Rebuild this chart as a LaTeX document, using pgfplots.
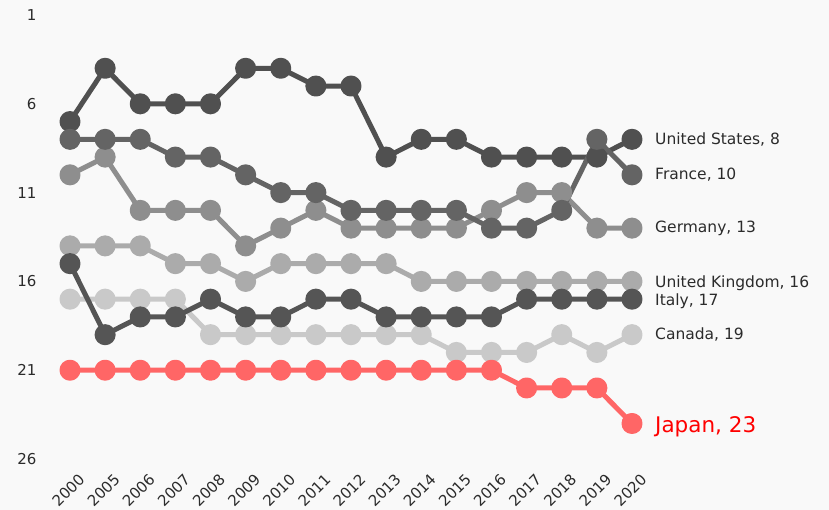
\documentclass[border=0pt]{standalone}
\usepackage{pgfplots}
\pgfplotsset{compat=1.18}
\usepackage{fontspec}
\setmainfont{DejaVu Sans}

\definecolor{bg}{HTML}{F9F9F9}
\definecolor{cUS}{HTML}{505050}
\definecolor{cFR}{HTML}{646464}
\definecolor{cDE}{HTML}{8E8E8E}
\definecolor{cUK}{HTML}{ABABAB}
\definecolor{cIT}{HTML}{555555}
\definecolor{cCA}{HTML}{C9C9C9}
\definecolor{cJP}{HTML}{FF6666}
\definecolor{txt}{HTML}{2B2B2B}

% ranks, x = 0..16 for 2000, 2005, 2006, ..., 2020
\pgfplotstableread{
x us fr de uk it ca jp
0  7  8 10 14 15 17 21
1  4  8  9 14 19 17 21
2  6  8 12 14 18 17 21
3  6  9 12 15 18 17 21
4  6  9 12 15 17 19 21
5  4 10 14 16 18 19 21
6  4 11 13 15 18 19 21
7  5 11 12 15 17 19 21
8  5 12 13 15 17 19 21
9  9 12 13 15 18 19 21
10 8 12 13 16 18 19 21
11 8 12 13 16 18 20 21
12 9 13 12 16 18 20 21
13 9 13 11 16 17 20 22
14 9 12 11 16 17 19 22
15 9  8 13 16 17 20 22
16 8 10 13 16 17 19 24
}\ranks

\begin{document}
\begin{tikzpicture}
\useasboundingbox (0,0) rectangle (829bp,510bp);
\fill[bg] (0,0) rectangle (829bp,510bp);
\begin{axis}[
    at={(70bp,51bp)}, anchor=south west,
    scale only axis,
    width=562bp, height=444bp,
    xmin=0, xmax=16, ymin=1, ymax=26,
    y dir=reverse,
    enlargelimits=false,
    clip=false,
    axis line style={draw=none},
    major tick length=0pt,
    xtick={0,...,16},
    xticklabels={2000,2005,2006,2007,2008,2009,2010,2011,2012,2013,2014,2015,2016,2017,2018,2019,2020},
    ytick={1,6,11,16,21,26},
    /pgf/number format/assume math mode=true,
    tick label style={text=txt, font=\fontsize{15bp}{17bp}\selectfont},
    xticklabel style={rotate=45, anchor=north east, inner sep=0pt, yshift=-15bp, xshift=-4bp},
    yticklabel style={anchor=east, xshift=-30bp},
    every axis plot/.append style={line width=5bp, mark=*, line join=round},
]
\addplot[cCA, mark options={fill=cCA, draw=none, mark size=8bp}] table[x=x,y=ca] {\ranks};
\addplot[cUK, mark options={fill=cUK, draw=none, mark size=8bp}] table[x=x,y=uk] {\ranks};
\addplot[cDE, mark options={fill=cDE, draw=none, mark size=8bp}] table[x=x,y=de] {\ranks};
\addplot[cIT, mark options={fill=cIT, draw=none, mark size=8bp}] table[x=x,y=it] {\ranks};
\addplot[cUS, mark options={fill=cUS, draw=none, mark size=8bp}] table[x=x,y=us] {\ranks};
\addplot[cFR, mark options={fill=cFR, draw=none, mark size=8bp}] table[x=x,y=fr] {\ranks};
\addplot[cJP, mark options={fill=cJP, draw=none, mark size=8bp}] table[x=x,y=jp] {\ranks};

\begin{scope}[every node/.style={anchor=west, text=txt, inner sep=0pt, xshift=23bp, font=\fontsize{15.5bp}{17bp}\selectfont}]
\node at (axis cs:16,8) {United States, 8};
\node at (axis cs:16,10) {France, 10};
\node at (axis cs:16,13) {Germany, 13};
\node at (axis cs:16,16.1) {United Kingdom, 16};
\node at (axis cs:16,17.1) {Italy, 17};
\node at (axis cs:16,19) {Canada, 19};
\node[text=red, font=\fontsize{21.5bp}{23bp}\selectfont] at (axis cs:16,24.2) {Japan, 23};
\end{scope}
\end{axis}
\end{tikzpicture}
\end{document}
